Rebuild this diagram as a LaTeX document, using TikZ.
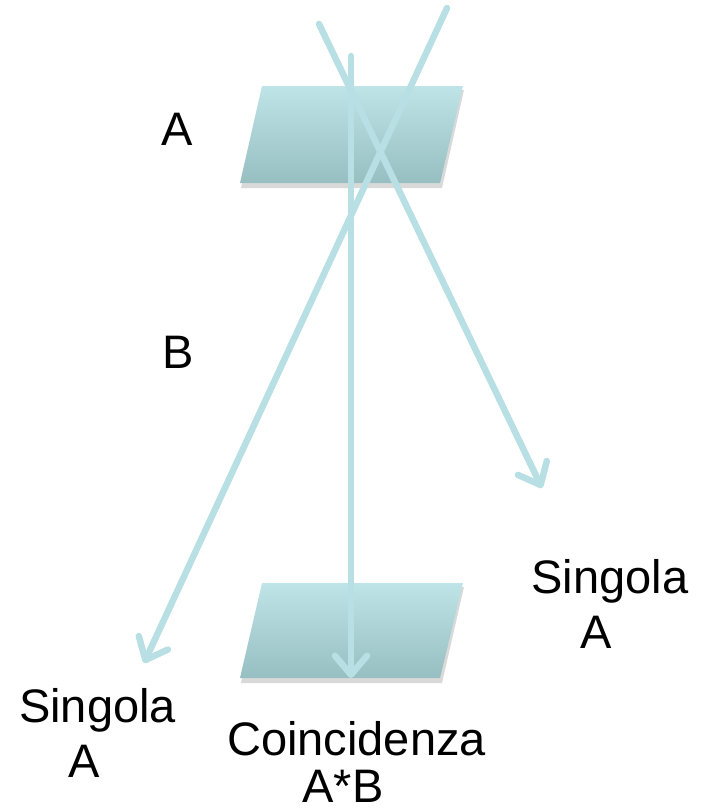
\documentclass[tikz,border=0pt]{standalone}
\usepackage{fontspec}
\setmainfont{Liberation Sans}
\usetikzlibrary{arrows.meta}
\definecolor{beam}{HTML}{B8DFE3}
\definecolor{slabtop}{HTML}{BEE4E8}
\definecolor{slabbot}{HTML}{97BEC1}
\tikzset{
  slab/.style={top color=slabtop, bottom color=slabbot, draw=none},
  slabshadow/.style={fill=black, opacity=0.15, draw=none},
  ray/.style={draw=beam, line width=6.5pt, line cap=round,
    -{Straight Barb[length=19pt, width=32pt, line cap=round, line join=round]}},
  lbl/.style={font=\fontsize{47}{55}\selectfont, inner sep=0pt, anchor=base}
}
\begin{document}
\begin{tikzpicture}[x=1pt, y=-1pt]
  \useasboundingbox (0,0) rectangle (703,811);
  % detector slabs with soft drop shadows
  \path[slabshadow] (263,90) -- (464,90) -- (442,188) -- (241,188) -- cycle;
  \path[slab] (262,86) -- (463,86) -- (440,183) -- (240,183) -- cycle;
  \path[slabshadow] (263,587) -- (464,587) -- (442,683) -- (241,683) -- cycle;
  \path[slab] (262,583) -- (463,583) -- (440,678) -- (240,678) -- cycle;
  % end points of the tracks
  \coordinate (t1) at (319,24);
  \coordinate (e1) at (542,488);
  \coordinate (t2) at (447,8);
  \coordinate (e2) at (144,663);
  \coordinate (t3) at (351,56);
  \coordinate (e3) at (351,678);
  \draw[ray] (t1) -- (e1);
  \draw[ray] (t2) -- (e2);
  \draw[ray] (t3) -- (e3);
  % labels
  \node[lbl] (la) at (177.5,145) {A};
  \node[lbl] (lb) at (178,368) {B};
  \node[lbl] (sr1) at (610,593) {Singola};
  \node[lbl] (sr2) at (596,648) {A};
  \node[lbl] (sl1) at (97.5,722) {Singola};
  \node[lbl] (sl2) at (84,777) {A};
  \node[lbl] (co1) at (356.5,755) {Coincidenza};
  \node[lbl] (co2) at (343,802) {A*B};
\end{tikzpicture}
\end{document}
